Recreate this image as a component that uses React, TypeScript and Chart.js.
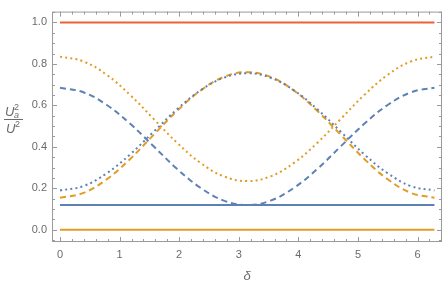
import React, { useEffect, useRef } from "react";
import { Chart, registerables } from "chart.js";

Chart.register(...registerables);

const deltas = [0, 0.3927, 0.7854, 1.1781, 1.5708, 1.9635, 2.3562, 2.7489, 3.1416, 3.5343, 3.927, 4.3197, 4.7124, 5.1051, 5.4978, 5.8905, 6.2832];
const blueDashed = [0.685, 0.663, 0.602, 0.511, 0.403, 0.294, 0.203, 0.141, 0.12, 0.141, 0.203, 0.294, 0.403, 0.511, 0.602, 0.663, 0.685];
const blueDotted = [0.19, 0.211, 0.273, 0.364, 0.473, 0.581, 0.672, 0.733, 0.755, 0.733, 0.672, 0.581, 0.473, 0.364, 0.273, 0.211, 0.19];
const orangeDashed = [0.155, 0.178, 0.244, 0.342, 0.458, 0.573, 0.671, 0.737, 0.76, 0.737, 0.671, 0.573, 0.458, 0.342, 0.244, 0.178, 0.155];
const orangeDotted = [0.835, 0.812, 0.747, 0.65, 0.535, 0.42, 0.323, 0.258, 0.235, 0.258, 0.323, 0.42, 0.535, 0.65, 0.747, 0.812, 0.835];
const flatX = [0, 6.2832];
const redSolid = [1.0, 1.0];
const blueSolid = [0.12, 0.12];
const orangeSolid = [0.0, 0.0];
const xTickValues = [0, 1, 2, 3, 4, 5, 6];
const yTickValues = [0, 0.2, 0.4, 0.6, 0.8, 1.0];

const BLUE = "#5E81B5";
const ORANGE = "#E19C24";
const RED = "#EB6235";
const FRAME = "#9a9a9a";
const LABEL = "#6b6b6b";
const FONT = "'Liberation Sans', Arial, sans-serif";

const pts = (xs: number[], ys: number[]) => xs.map((x, i) => ({ x, y: ys[i] }));

const framePlugin = {
  id: "frameTicks",
  afterDraw(chart: any) {
    const { ctx, chartArea: a, scales } = chart;
    const xs = scales.x;
    const ys = scales.y;
    ctx.save();
    ctx.strokeStyle = FRAME;
    ctx.lineWidth = 1;
    ctx.strokeRect(a.left + 0.5, a.top + 0.5, a.right - a.left - 1, a.bottom - a.top - 1);
    ctx.beginPath();
    for (let i = -1; i <= 32; i++) {
      const v = i * 0.2;
      if (v < xs.min || v > xs.max) continue;
      const major = i % 5 === 0;
      const len = major ? 5 : 3;
      const px = Math.round(xs.getPixelForValue(v)) + 0.5;
      ctx.moveTo(px, a.bottom);
      ctx.lineTo(px, a.bottom - len);
      ctx.moveTo(px, a.top);
      ctx.lineTo(px, a.top + len);
    }
    for (let i = -2; i <= 22; i++) {
      const v = i * 0.05;
      if (v < ys.min || v > ys.max) continue;
      const major = i % 4 === 0;
      const len = major ? 5 : 3;
      const py = Math.round(ys.getPixelForValue(v)) + 0.5;
      ctx.moveTo(a.left, py);
      ctx.lineTo(a.left + len, py);
      ctx.moveTo(a.right, py);
      ctx.lineTo(a.right - len, py);
    }
    ctx.stroke();

    // y axis label: U_a^2 / U^2
    ctx.fillStyle = LABEL;
    ctx.textBaseline = "alphabetic";
    ctx.textAlign = "left";
    ctx.font = `italic 13px ${FONT}`;
    ctx.fillText("U", 5, 116);
    ctx.font = `9px ${FONT}`;
    ctx.fillText("2", 14, 110);
    ctx.font = `italic 9px ${FONT}`;
    ctx.fillText("a", 14, 118);
    ctx.strokeStyle = LABEL;
    ctx.beginPath();
    ctx.moveTo(4, 119.5);
    ctx.lineTo(23, 119.5);
    ctx.stroke();
    ctx.font = `italic 13px ${FONT}`;
    ctx.fillText("U", 6, 133);
    ctx.font = `9px ${FONT}`;
    ctx.fillText("2", 15, 127);
    ctx.restore();
  },
};

export default function App() {
  const ref = useRef<HTMLCanvasElement>(null);
  useEffect(() => {
    if (!ref.current) return;
    const dashed = [6, 4];
    const dotted = [2, 3.2];
    const chart = new Chart(ref.current, {
      type: "line",
      data: {
        datasets: [
          { data: pts(flatX, redSolid), borderColor: RED, borderWidth: 2 },
          { data: pts(flatX, blueSolid), borderColor: BLUE, borderWidth: 2 },
          { data: pts(flatX, orangeSolid), borderColor: ORANGE, borderWidth: 2 },
          { data: pts(deltas, blueDashed), borderColor: BLUE, borderWidth: 2, borderDash: dashed },
          { data: pts(deltas, blueDotted), borderColor: BLUE, borderWidth: 2, borderDash: dotted },
          { data: pts(deltas, orangeDashed), borderColor: ORANGE, borderWidth: 2, borderDash: dashed },
          { data: pts(deltas, orangeDotted), borderColor: ORANGE, borderWidth: 2, borderDash: dotted },
        ].map((d) => ({ ...d, pointRadius: 0, fill: false, tension: 0.4 })),
      },
      options: {
        animation: false,
        responsive: false,
        events: [],
        layout: { padding: { left: 0, right: 3, top: 1, bottom: 0 } },
        plugins: { legend: { display: false }, tooltip: { enabled: false } },
        scales: {
          x: {
            type: "linear",
            min: -0.134,
            max: 6.41,
            grid: { display: false, drawTicks: false },
            border: { display: false },
            afterBuildTicks: (s: any) => {
              s.ticks = xTickValues.map((v) => ({ value: v }));
            },
            afterFit: (s: any) => {
              s.height = 45;
            },
            ticks: {
              padding: 6,
              color: LABEL,
              font: { family: FONT, size: 11 },
              callback: (v: any) => String(v),
            },
            title: {
              display: true,
              text: "δ",
              color: LABEL,
              padding: { top: 0, bottom: 3 },
              font: { family: FONT, size: 13, style: "italic" },
            },
          },
          y: {
            type: "linear",
            min: -0.0585,
            max: 1.052,
            grid: { display: false, drawTicks: false },
            border: { display: false },
            afterBuildTicks: (s: any) => {
              s.ticks = yTickValues.map((v) => ({ value: v }));
            },
            afterFit: (s: any) => {
              s.width = 52;
            },
            ticks: {
              padding: 5,
              color: LABEL,
              font: { family: FONT, size: 11 },
              callback: (v: any) => Number(v).toFixed(1),
            },
          },
        },
      },
      plugins: [framePlugin],
    });
    return () => chart.destroy();
  }, []);
  return (
    <div style={{ position: "fixed", left: 0, top: 0, width: 445, height: 287, background: "#fff" }}>
      <canvas ref={ref} width={445} height={287} style={{ width: 445, height: 287 }} />
    </div>
  );
}
